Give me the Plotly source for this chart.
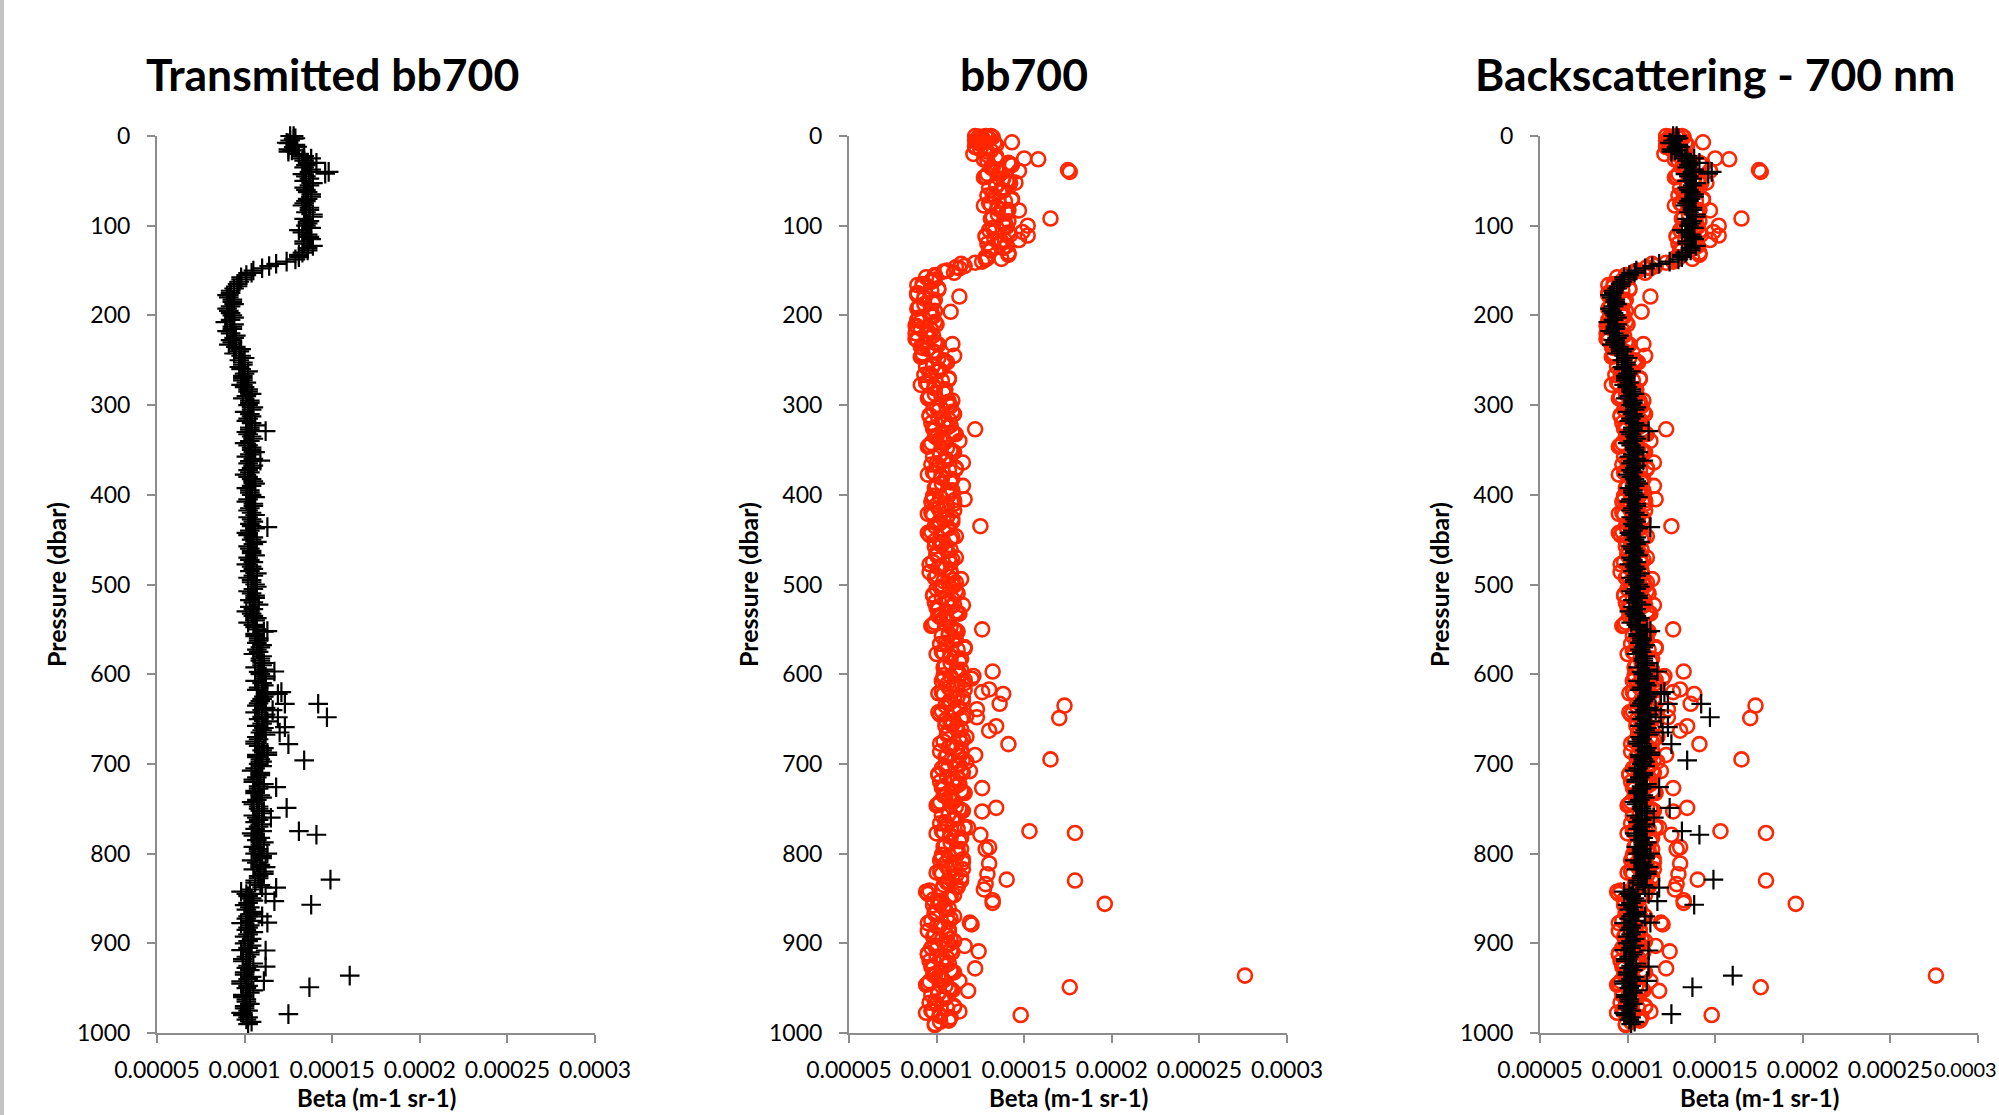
import plotly.graph_objects as go

# ---------------- DATA (beta values in units of 1e-6 m-1 sr-1) ----------------
BETA_UNIT = 1e-6

pressure_core = [
    0, 5, 10, 15, 20, 25, 30, 35, 40, 45, 50, 55, 60, 65, 70, 75, 80, 85, 90, 95,
    100, 105, 110, 115, 120, 125, 130, 135, 140, 145, 150, 155, 160, 165, 170, 175, 180, 185, 190, 195,
    200, 205, 210, 215, 220, 225, 230, 235, 240, 245, 250, 255, 260, 265, 270, 275, 280, 285, 290, 295,
    300, 305, 310, 315, 320, 325, 330, 335, 340, 345, 350, 355, 360, 365, 370, 375, 380, 385, 390, 395,
    400, 405, 410, 415, 420, 425, 430, 435, 440, 445, 450, 455, 460, 465, 470, 475, 480, 485, 490, 495,
    500, 505, 510, 515, 520, 525, 530, 535, 540, 545, 550, 555, 560, 565, 570, 575, 580, 585, 590, 595,
    600, 605, 610, 615, 620, 625, 630, 635, 640, 645, 650, 655, 660, 665, 670, 675, 680, 685, 690, 695,
    700, 705, 710, 715, 720, 725, 730, 735, 740, 745, 750, 755, 760, 765, 770, 775, 780, 785, 790, 795,
    800, 805, 810, 815, 820, 825, 830, 835, 840, 845, 850, 855, 860, 865, 870, 875, 880, 885, 890, 895,
    900, 905, 910, 915, 920, 925, 930, 935, 940, 945, 950, 955, 960, 965, 970, 975, 980, 985, 990,
]

transmitted_core = [
    128, 126, 129, 125, 131, 133, 136, 134, 137, 135, 134, 137, 135, 138, 136, 134, 137, 135, 139, 137,
    135, 131, 136, 138, 134, 136, 133, 131, 124, 114, 105, 101, 98, 96, 94, 92, 91, 93, 92, 91,
    93, 92, 94, 93, 92, 94, 93, 95, 97, 98, 97, 99, 98, 100, 99, 101, 100, 102, 101, 103,
    102, 104, 103, 102, 104, 103, 101, 104, 103, 102, 104, 103, 105, 102, 104, 103, 102, 105, 104, 103,
    104, 102, 105, 103, 104, 102, 105, 104, 103, 102, 104, 105, 103, 104, 102, 105, 104, 103, 105, 104,
    106, 105, 104, 106, 105, 103, 101, 105, 106, 105, 107, 106, 108, 107, 109, 108, 110, 109, 110, 111,
    109, 112, 110, 108, 113, 111, 109, 107, 110, 112, 108, 110, 111, 109, 107, 106, 108, 110, 107, 109,
    108, 106, 109, 107, 105, 108, 106, 109, 107, 105, 108, 110, 107, 106, 108, 110, 105, 107, 109, 108,
    106, 110, 107, 109, 111, 108, 106, 109, 103, 101, 104, 102, 103, 105, 102, 104, 103, 101, 102, 104,
    100, 102, 103, 101, 99, 102, 103, 100, 102, 98, 101, 103, 99, 101, 100, 102, 99, 101, 102,
]

bb700_core = [
    131, 122, 134, 125, 121, 134, 141, 131, 136, 128, 140, 134, 137, 132, 143, 130, 135, 140, 132, 141,
    139, 130, 142, 133, 129, 138, 141, 128, 126, 116, 106, 99, 99, 92, 101, 89, 93, 98, 90, 99,
    97, 89, 100, 91, 88, 96, 99, 91, 98, 92, 104, 98, 101, 96, 107, 94, 99, 104, 96, 109,
    107, 98, 110, 101, 97, 106, 109, 99, 104, 96, 108, 102, 105, 100, 111, 98, 103, 108, 100, 109,
    107, 98, 110, 101, 97, 106, 109, 99, 104, 96, 108, 102, 105, 100, 111, 98, 103, 108, 100, 109,
    109, 100, 112, 103, 99, 108, 111, 101, 106, 98, 110, 107, 110, 105, 116, 103, 108, 113, 105, 114,
    113, 104, 116, 107, 103, 112, 115, 105, 110, 102, 114, 108, 111, 106, 117, 104, 109, 114, 106, 115,
    112, 103, 115, 106, 102, 111, 114, 104, 109, 101, 113, 107, 110, 105, 116, 103, 108, 113, 105, 114,
    112, 103, 115, 106, 102, 111, 114, 104, 103, 95, 107, 101, 104, 99, 110, 97, 102, 107, 99, 108,
    106, 97, 109, 100, 96, 105, 108, 98, 103, 95, 107, 101, 104, 99, 110, 97, 102, 107, 99,
]

pressure_half = [
    2.5, 7.5, 12.5, 17.5, 22.5, 27.5, 32.5, 37.5, 42.5, 47.5, 52.5, 57.5, 62.5, 67.5, 72.5, 77.5, 82.5, 87.5, 92.5, 97.5,
    102.5, 107.5, 112.5, 117.5, 122.5, 127.5, 132.5, 137.5, 142.5, 147.5, 152.5, 157.5, 162.5, 167.5, 172.5, 177.5, 182.5, 187.5, 192.5, 197.5,
    202.5, 207.5, 212.5, 217.5, 222.5, 227.5, 232.5, 237.5, 242.5, 247.5, 252.5, 257.5, 262.5, 267.5, 272.5, 277.5, 282.5, 287.5, 292.5, 297.5,
    302.5, 307.5, 312.5, 317.5, 322.5, 327.5, 332.5, 337.5, 342.5, 347.5, 352.5, 357.5, 362.5, 367.5, 372.5, 377.5, 382.5, 387.5, 392.5, 397.5,
    402.5, 407.5, 412.5, 417.5, 422.5, 427.5, 432.5, 437.5, 442.5, 447.5, 452.5, 457.5, 462.5, 467.5, 472.5, 477.5, 482.5, 487.5, 492.5, 497.5,
    502.5, 507.5, 512.5, 517.5, 522.5, 527.5, 532.5, 537.5, 542.5, 547.5, 552.5, 557.5, 562.5, 567.5, 572.5, 577.5, 582.5, 587.5, 592.5, 597.5,
    602.5, 607.5, 612.5, 617.5, 622.5, 627.5, 632.5, 637.5, 642.5, 647.5, 652.5, 657.5, 662.5, 667.5, 672.5, 677.5, 682.5, 687.5, 692.5, 697.5,
    702.5, 707.5, 712.5, 717.5, 722.5, 727.5, 732.5, 737.5, 742.5, 747.5, 752.5, 757.5, 762.5, 767.5, 772.5, 777.5, 782.5, 787.5, 792.5, 797.5,
    802.5, 807.5, 812.5, 817.5, 822.5, 827.5, 832.5, 837.5, 842.5, 847.5, 852.5, 857.5, 862.5, 867.5, 872.5, 877.5, 882.5, 887.5, 892.5, 897.5,
    902.5, 907.5, 912.5, 917.5, 922.5, 927.5, 932.5, 937.5, 942.5, 947.5, 952.5, 957.5, 962.5, 967.5, 972.5, 977.5, 982.5, 987.5,
]

transmitted_half = [
    129, 124, 128, 125, 134, 134, 135, 138, 133, 137, 139, 134, 136, 138, 135, 133, 137, 139, 134, 136,
    138, 133, 137, 134, 139, 136, 131, 129, 118, 110, 104, 98, 97, 96, 92, 90, 93, 94, 90, 92,
    94, 89, 93, 90, 95, 92, 91, 98, 94, 100, 99, 97, 102, 99, 99, 98, 102, 104, 99, 103,
    105, 100, 104, 101, 106, 103, 102, 105, 100, 104, 106, 101, 103, 105, 102, 100, 104, 106, 101, 103,
    106, 101, 105, 102, 106, 104, 103, 106, 101, 105, 107, 102, 104, 106, 103, 101, 105, 107, 102, 104,
    107, 102, 106, 103, 108, 105, 104, 107, 102, 106, 111, 106, 108, 110, 107, 105, 109, 111, 106, 108,
    112, 106, 111, 107, 112, 110, 108, 112, 106, 110, 113, 107, 110, 112, 108, 106, 111, 113, 107, 110,
    110, 104, 109, 105, 111, 108, 106, 110, 104, 108, 111, 105, 108, 110, 106, 104, 109, 111, 105, 108,
    110, 104, 109, 105, 111, 108, 106, 110, 98, 102, 105, 100, 101, 104, 101, 98, 102, 105, 100, 102,
    104, 98, 103, 99, 105, 101, 100, 104, 98, 102, 105, 99, 101, 103, 100, 98, 102, 104,
]

bb700_half = [
    124, 133, 122, 129, 134, 129, 143, 134, 129, 138, 142, 130, 136, 133, 139, 127, 141, 135, 131, 138,
    132, 141, 128, 137, 140, 131, 141, 128, 114, 113, 110, 94, 97, 92, 97, 89, 99, 93, 89, 96,
    90, 99, 89, 95, 98, 89, 101, 95, 92, 101, 106, 94, 100, 97, 103, 91, 105, 99, 95, 106,
    100, 109, 96, 105, 108, 99, 111, 102, 97, 106, 110, 98, 104, 101, 107, 95, 109, 103, 99, 106,
    102, 97, 106, 110, 98, 104, 101, 107, 95, 109, 103, 99, 106, 100, 109, 96, 105, 108, 99, 111,
    102, 111, 98, 107, 110, 101, 113, 104, 99, 108, 112, 103, 109, 106, 112, 100, 114, 108, 104, 111,
    108, 103, 112, 116, 104, 110, 107, 113, 101, 115, 109, 105, 112, 106, 115, 102, 111, 114, 105, 117,
    105, 114, 101, 110, 113, 104, 116, 107, 102, 111, 115, 103, 109, 106, 112, 100, 114, 108, 104, 111,
    107, 102, 111, 115, 103, 109, 106, 112, 94, 108, 102, 98, 105, 99, 108, 95, 104, 107, 98, 110,
    99, 108, 95, 104, 107, 98, 110, 101, 96, 105, 109, 97, 103, 100, 106, 94, 108, 102,
]

pressure_quarter = [
    1.25, 6.25, 11.25, 16.25, 21.25, 26.25, 31.25, 36.25, 41.25, 46.25, 51.25, 56.25, 61.25, 66.25, 71.25, 76.25, 81.25, 86.25, 91.25, 96.25,
    101.25, 106.25, 111.25, 116.25, 121.25, 126.25, 131.25, 136.25, 141.25, 146.25, 151.25, 156.25, 161.25, 166.25, 171.25, 176.25, 181.25, 186.25, 191.25, 196.25,
    201.25, 206.25, 211.25, 216.25, 221.25, 226.25, 231.25, 236.25, 241.25, 246.25, 251.25, 256.25, 261.25, 266.25, 271.25, 276.25, 281.25, 286.25, 291.25, 296.25,
    301.25, 306.25, 311.25, 316.25, 321.25, 326.25, 331.25, 336.25, 341.25, 346.25, 351.25, 356.25, 361.25, 366.25, 371.25, 376.25, 381.25, 386.25, 391.25, 396.25,
    401.25, 406.25, 411.25, 416.25, 421.25, 426.25, 431.25, 436.25, 441.25, 446.25, 451.25, 456.25, 461.25, 466.25, 471.25, 476.25, 481.25, 486.25, 491.25, 496.25,
    501.25, 506.25, 511.25, 516.25, 521.25, 526.25, 531.25, 536.25, 541.25, 546.25, 551.25, 556.25, 561.25, 566.25, 571.25, 576.25, 581.25, 586.25, 591.25, 596.25,
    601.25, 606.25, 611.25, 616.25, 621.25, 626.25, 631.25, 636.25, 641.25, 646.25, 651.25, 656.25, 661.25, 666.25, 671.25, 676.25, 681.25, 686.25, 691.25, 696.25,
    701.25, 706.25, 711.25, 716.25, 721.25, 726.25, 731.25, 736.25, 741.25, 746.25, 751.25, 756.25, 761.25, 766.25, 771.25, 776.25, 781.25, 786.25, 791.25, 796.25,
    801.25, 806.25, 811.25, 816.25, 821.25, 826.25, 831.25, 836.25, 841.25, 846.25, 851.25, 856.25, 861.25, 866.25, 871.25, 876.25, 881.25, 886.25, 891.25, 896.25,
    901.25, 906.25, 911.25, 916.25, 921.25, 926.25, 931.25, 936.25, 941.25, 946.25, 951.25, 956.25, 961.25, 966.25, 971.25, 976.25, 981.25, 986.25, 991.25,
]

bb700_quarter = [
    132, 125, 122, 131, 129, 127, 142, 132, 137, 127, 141, 134, 138, 129, 143, 131, 135, 140, 132, 139,
    140, 133, 128, 139, 136, 130, 141, 129, 122, 111, 104, 99, 97, 89, 101, 89, 93, 98, 90, 97,
    98, 91, 88, 97, 94, 88, 100, 92, 99, 91, 105, 98, 102, 93, 107, 95, 99, 104, 96, 107,
    108, 101, 96, 107, 104, 98, 110, 100, 105, 95, 109, 102, 106, 97, 111, 99, 103, 108, 100, 107,
    98, 110, 100, 105, 95, 109, 102, 106, 97, 111, 99, 103, 108, 100, 107, 108, 101, 96, 107, 104,
    110, 103, 98, 109, 106, 100, 112, 102, 107, 97, 111, 107, 111, 102, 116, 104, 108, 113, 105, 112,
    104, 116, 106, 111, 101, 115, 108, 112, 103, 117, 105, 109, 114, 106, 113, 114, 107, 102, 113, 110,
    113, 106, 101, 112, 109, 103, 115, 105, 110, 100, 114, 107, 111, 102, 116, 104, 108, 113, 105, 112,
    103, 115, 105, 110, 100, 114, 107, 111, 96, 110, 98, 102, 107, 99, 106, 107, 100, 95, 106, 103,
    107, 100, 95, 106, 103, 97, 109, 99, 104, 94, 108, 101, 105, 96, 110, 98, 102, 107, 99,
]

pressure_surface_red = [0, 1, 2, 0, 3, 1, 4, 2, 6, 8]
bb700_surface = [122, 124, 126, 128, 130, 125, 123, 129, 127, 124]

pressure_surface_black = [0, 3, 8, 12, 16]
transmitted_surface = [126, 128, 125, 130, 127]

pressure_spikes_black = [
    25, 30, 40, 42, 329, 362, 436, 552, 597, 620, 622, 633, 633, 640, 648, 648, 659, 665, 678, 690,
    696, 726, 749, 760, 775, 779, 800, 815, 829, 838, 845, 853, 857, 870, 877, 908, 926, 936, 942, 949,
    979,
]
transmitted_spikes = [
    138, 141, 148, 146, 112, 109, 113, 113, 117, 121, 119, 123, 142, 116, 147, 119, 123, 120, 125, 113,
    134, 118, 124, 115, 131, 141, 113, 112, 149, 118, 112, 117, 138, 110, 113, 112, 112, 160, 111, 137,
    125,
]

pressure_spikes_red = [
    7, 25, 26, 38, 40, 39, 52, 83, 92, 100,
    107, 111, 116, 137, 179, 196, 232, 245, 327, 340,
    364, 390, 405, 435, 494, 523, 550, 570, 597, 602,
    605, 617, 620, 622, 633, 635, 639, 648, 649, 658,
    663, 678, 690, 695, 708, 727, 749, 753, 771, 775,
    777, 779, 793, 795, 811, 823, 829, 830, 834, 840,
    852, 855, 856, 877, 879, 903, 909, 928, 936, 942,
    949, 953, 976, 980,
]
bb700_spikes = [
    143, 150, 158, 175, 176, 147, 145, 147, 165, 152,
    149, 152, 147, 137, 113, 108, 109, 110, 122, 113,
    115, 115, 116, 125, 114, 115, 126, 116, 132, 121,
    120, 130, 126, 138, 136, 173, 123, 123, 170, 134,
    130, 141, 122, 165, 119, 126, 134, 126, 118, 153,
    179, 125, 130, 128, 130, 129, 140, 179, 128, 127,
    132, 132, 196, 119, 120, 116, 124, 122, 276, 113,
    176, 118, 113, 148,
]

x_tick_values = [0.00005, 0.0001, 0.00015, 0.0002, 0.00025, 0.0003]
x_tick_labels = ["0.00005", "0.0001", "0.00015", "0.0002", "0.00025", "0.0003"]
y_tick_values = [0, 100, 200, 300, 400, 500, 600, 700, 800, 900, 1000]

panel_titles = ["Transmitted bb700", "bb700", "Backscattering - 700 nm"]
x_title = "Beta (m-1 sr-1)"
y_title = "Pressure (dbar)"

# ---------------- BUILD ----------------
W, H = 1999, 1115
RED = "rgb(255,38,0)"
AXIS_GREY = "#8c8c8c"
FONT = "Lato, 'Open Sans', sans-serif"
TICK_FONT = dict(family=FONT, size=23, color="black")

black_p = pressure_core + pressure_half + pressure_surface_black + pressure_spikes_black
black_x = [v * BETA_UNIT for v in transmitted_core + transmitted_half + transmitted_surface + transmitted_spikes]
red_p = pressure_core + pressure_half + pressure_quarter + pressure_surface_red + pressure_spikes_red
red_x = [v * BETA_UNIT for v in bb700_core + bb700_half + bb700_quarter + bb700_surface + bb700_spikes]

# pixel layout of the three plot areas
panel_left_px = [157, 849, 1540]
panel_width_px = 438
top_px, bottom_px = 136, 1033


def fx(px):
    return px / W


def fy(py):
    return 1 - py / H


black_marker = dict(symbol="cross-thin", size=14, line=dict(width=2.2, color="black"), color="black")
red_marker = dict(symbol="circle-open", size=14, color=RED, line=dict(width=2.6, color=RED))

fig = go.Figure()
fig.add_trace(go.Scatter(x=black_x, y=black_p, mode="markers", marker=black_marker,
                         xaxis="x", yaxis="y", cliponaxis=False, showlegend=False))
fig.add_trace(go.Scatter(x=red_x, y=red_p, mode="markers", marker=red_marker,
                         xaxis="x2", yaxis="y2", cliponaxis=False, showlegend=False))
fig.add_trace(go.Scatter(x=red_x, y=red_p, mode="markers", marker=red_marker,
                         xaxis="x3", yaxis="y3", cliponaxis=False, showlegend=False))
fig.add_trace(go.Scatter(x=black_x, y=black_p, mode="markers", marker=black_marker,
                         xaxis="x3", yaxis="y3", cliponaxis=False, showlegend=False))

common_axis = dict(showline=True, linecolor=AXIS_GREY, linewidth=2, ticks="outside", ticklen=8,
                   tickwidth=2, tickcolor=AXIS_GREY, showgrid=False, zeroline=False,
                   automargin=False, mirror=False, tickfont=TICK_FONT, fixedrange=True)

layout = dict(template="none", width=W, height=H, margin=dict(l=0, r=0, t=0, b=0, pad=0),
              autosize=False, paper_bgcolor="white", plot_bgcolor="white", showlegend=False)

annotations = []
for i in range(3):
    sfx = "" if i == 0 else str(i + 1)
    left = panel_left_px[i]
    right = left + panel_width_px
    ticktext = list(x_tick_labels)
    if i == 2:
        # last label of the right-most panel sits at the page edge: drawn as a
        # right-aligned, slightly smaller annotation so it stays fully readable
        ticktext[-1] = ""
    layout["xaxis" + sfx] = dict(common_axis, domain=[fx(left), fx(right)],
                                 range=[x_tick_values[0], x_tick_values[-1]],
                                 tickvals=x_tick_values, ticktext=ticktext,
                                 anchor="y" + sfx, ticklabelstandoff=7)
    layout["yaxis" + sfx] = dict(common_axis, domain=[fy(bottom_px), fy(top_px)],
                                 range=[y_tick_values[-1], y_tick_values[0]],
                                 tickvals=y_tick_values, anchor="x" + sfx,
                                 ticklabelstandoff=12)
    annotations.append(dict(text="<b>" + y_title + "</b>", xref="paper", yref="paper",
                            x=fx(left - 101), y=fy(585), textangle=-90, showarrow=False,
                            xanchor="center", yanchor="middle",
                            font=dict(family=FONT, size=25, color="black")))
    annotations.append(dict(text="<b>" + x_title + "</b>", xref="paper", yref="paper",
                            x=fx((left + right) / 2), y=fy(1097), showarrow=False,
                            xanchor="center", yanchor="middle",
                            font=dict(family=FONT, size=24, color="black")))

annotations.append(dict(text=x_tick_labels[-1], xref="paper", yref="paper",
                        x=fx(1998), y=fy(1069), showarrow=False, xanchor="right",
                        yanchor="middle", borderpad=0,
                        font=dict(family=FONT, size=20, color="black")))

title_centers_px = [332, 1024, 1715]
for t, cx in zip(panel_titles, title_centers_px):
    annotations.append(dict(text="<b>" + t + "</b>", xref="paper", yref="paper",
                            x=fx(cx), y=fy(73), showarrow=False, xanchor="center",
                            yanchor="middle", font=dict(family=FONT, size=44.5, color="black")))

layout["annotations"] = annotations
layout["shapes"] = [dict(type="rect", xref="paper", yref="paper", x0=0, x1=fx(4), y0=0, y1=1,
                         fillcolor="#c4c4c4", line=dict(width=0), layer="above")]
fig.update_layout(**layout)

fig.write_html("out.html", config={"displayModeBar": False},
               post_script="document.body.style.margin='0';document.body.style.overflow='hidden';")
